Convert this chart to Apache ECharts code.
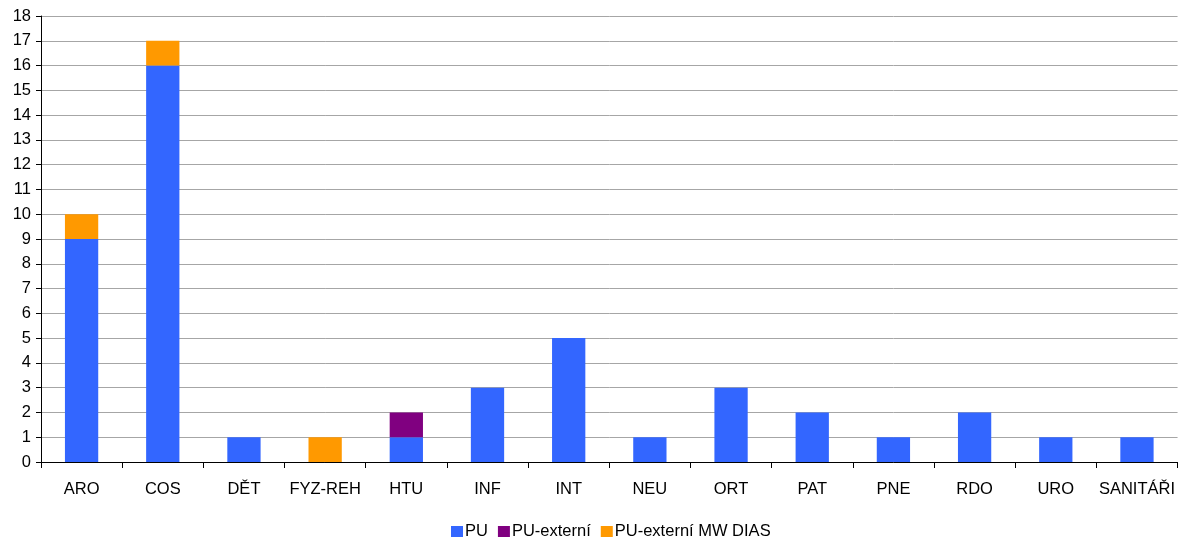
<!DOCTYPE html>
<html><head><meta charset="utf-8">
<script src="https://cdn.jsdelivr.net/npm/echarts@6/dist/echarts.min.js"></script>
<style>html,body{margin:0;padding:0;background:#fff}#c{width:1178px;height:539px}</style>
</head><body><div id="c"></div>
<script>
const categories = ['ARO','COS','DĚT','FYZ-REH','HTU','INF','INT','NEU','ORT','PAT','PNE','RDO','URO','SANITÁŘI'];
const pu =        [9,16,1,0,1,3,5,1,3,2,1,2,1,1];
const puExterni = [0,0,0,0,1,0,0,0,0,0,0,0,0,0];
const puMwDias =  [1,1,0,1,0,0,0,0,0,0,0,0,0,0];
const seriesNames = ['PU','PU-externí','PU-externí MW DIAS'];
const yTicks = {min:0, max:18, interval:1};

const font = 'Liberation Sans, Arial, sans-serif';
const fs = 16.5;
const chart = echarts.init(document.getElementById('c'), null, {renderer:'canvas'});
const mk = (name, data, color) => ({
  name, type:'bar', stack:'s', data, barWidth:'41%',
  itemStyle:{color}, emphasis:{disabled:true}
});
chart.setOption({
  animation:false,
  textStyle:{fontFamily:font},
  grid:{left:41, right:0, top:16, bottom:77, containLabel:false},
  legend:{
    left:451, top:523, padding:0, icon:'rect', itemWidth:12, itemHeight:11, itemGap:10,
    textStyle:{fontFamily:font, fontSize:fs, color:'#000', padding:[0,0,0,-3]},
    data:seriesNames
  },
  xAxis:{
    type:'category', data:categories,
    axisLine:{lineStyle:{color:'#000', width:1}},
    axisTick:{show:true, length:6, alignWithLabel:false, lineStyle:{color:'#000'}},
    axisLabel:{fontFamily:font, fontSize:fs, color:'#000', margin:19, interval:0}
  },
  yAxis:{
    type:'value', min:yTicks.min, max:yTicks.max, interval:yTicks.interval,
    axisLine:{show:true, lineStyle:{color:'#000', width:1}},
    axisTick:{show:true, length:5, lineStyle:{color:'#000'}},
    axisLabel:{fontFamily:font, fontSize:fs, color:'#000', margin:10},
    splitLine:{show:true, lineStyle:{color:'#a6a6a6', width:1}}
  },
  series:[
    mk(seriesNames[0], pu, '#3366FF'),
    mk(seriesNames[1], puExterni.map(v=>v||null), '#800080'),
    mk(seriesNames[2], puMwDias.map(v=>v||null), '#FF9900')
  ]
});
</script></body></html>
